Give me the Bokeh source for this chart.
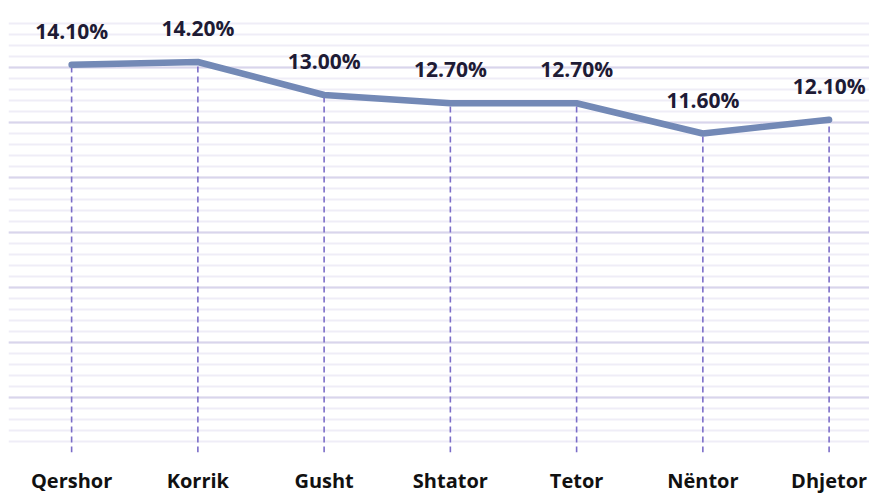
from bokeh.plotting import figure
from bokeh.models import FixedTicker, Range1d, ColumnDataSource
from bokeh.core.properties import value
from bokeh.embed import file_html
from bokeh.resources import INLINE

months = ["Qershor", "Korrik", "Gusht", "Shtator", "Tetor", "Nëntor", "Dhjetor"]
rates = [14.1, 14.2, 13.0, 12.7, 12.7, 11.6, 12.1]
y_major = [0, 2, 4, 6, 8, 10, 12, 14, 16]

xs = list(range(len(months)))
labels = [f"{v:.2f}%" for v in rates]
src = ColumnDataSource(dict(x=xs, y=rates, lab=labels, base=[0] * len(xs)))

p = figure(width=869, height=496, output_backend="svg", toolbar_location=None,
           x_range=Range1d(-0.5, 6.32), y_range=Range1d(0, 16),
           min_border_left=8, min_border_right=0, min_border_top=12, min_border_bottom=43)
p.outline_line_color = None
p.background_fill_color = "white"
p.border_fill_color = "white"

p.yaxis.visible = False
p.xgrid.grid_line_color = None
minor = [round(i * 0.4, 1) for i in range(41)]
p.ygrid.ticker = FixedTicker(ticks=y_major, minor_ticks=minor)
p.ygrid.grid_line_color = "#d9d5ec"
p.ygrid.grid_line_width = 2
p.ygrid.minor_grid_line_color = "#efedf7"
p.ygrid.minor_grid_line_width = 2

p.xaxis.ticker = FixedTicker(ticks=xs)
p.xaxis.major_label_overrides = {i: m for i, m in zip(xs, months)}
p.xaxis.axis_line_color = None
p.xaxis.major_tick_line_color = None
p.xaxis.minor_tick_line_color = None
p.xaxis.major_label_standoff = 8
p.xaxis.major_label_text_font = "Open Sans"
p.xaxis.major_label_text_font_style = "bold"
p.xaxis.major_label_text_font_size = "20px"
p.xaxis.major_label_text_color = "#111111"

p.segment(x0="x", y0="base", x1="x", y1="y", source=src, line_color="#7b6dc8",
          line_width=1.6, line_dash="6 4")
p.line(x="x", y="y", source=src, line_color="#7389b6", line_width=6.5,
       line_cap="round", line_join="round")
p.text(x="x", y="y", text="lab", source=src, y_offset=-34,
       text_align="center", text_baseline="middle",
       text_font=value("Open Sans"), text_font_style="bold",
       text_font_size="21px", text_color="#1e1b35")

open("out.html", "w").write(file_html(p, INLINE))
